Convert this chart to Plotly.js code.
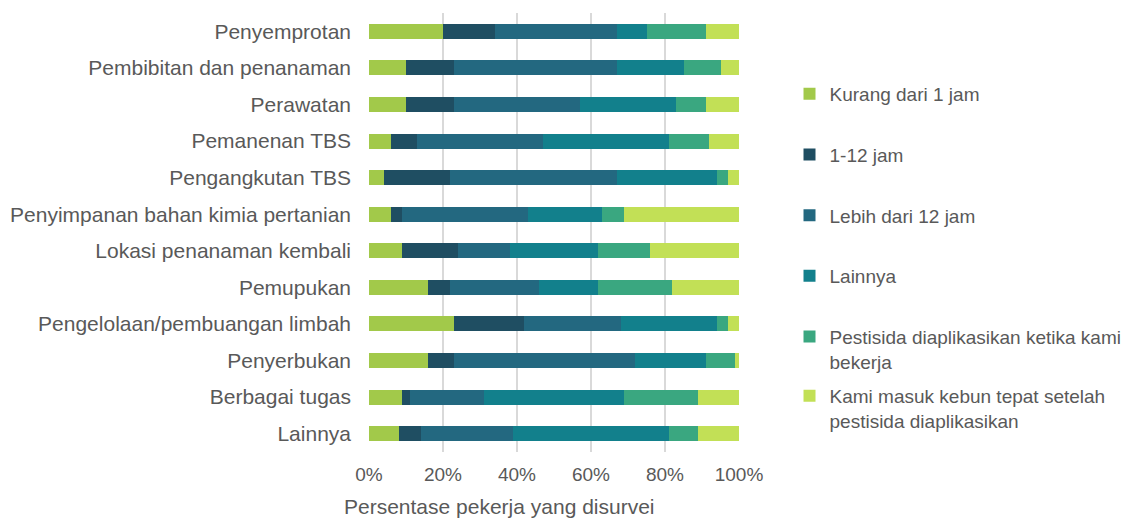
<!DOCTYPE html>
<html>
<head>
<meta charset="utf-8">
<script src="https://cdn.plot.ly/plotly-3.0.1.min.js"></script>
<style>html,body{margin:0;padding:0;background:#fff;}#chart{width:1148px;height:522px;}</style>
</head>
<body>
<div id="chart"></div>
<script>
const categories = [
  "Penyemprotan",
  "Pembibitan dan penanaman",
  "Perawatan",
  "Pemanenan TBS",
  "Pengangkutan TBS",
  "Penyimpanan bahan kimia pertanian",
  "Lokasi penanaman kembali",
  "Pemupukan",
  "Pengelolaan/pembuangan limbah",
  "Penyerbukan",
  "Berbagai tugas",
  "Lainnya"
];
const seriesNames = [
  "Kurang dari 1 jam",
  "1-12 jam",
  "Lebih dari 12 jam",
  "Lainnya",
  "Pestisida diaplikasikan ketika kami<br>bekerja",
  "Kami masuk kebun tepat setelah<br>pestisida diaplikasikan"
];
const kurangDari1Jam   = [20, 10, 10,  6,  4,  6,  9, 16, 23, 16,  9,  8];
const satuSampai12Jam  = [14, 13, 13,  7, 18,  3, 15,  6, 19,  7,  2,  6];
const lebihDari12Jam   = [33, 44, 34, 34, 45, 34, 14, 24, 26, 49, 20, 25];
const lainnya          = [ 8, 18, 26, 34, 27, 20, 24, 16, 26, 19, 38, 42];
const saatBekerja      = [16, 10,  8, 11,  3,  6, 14, 20,  3,  8, 20,  8];
const setelahAplikasi  = [ 9,  5,  9,  8,  3, 31, 24, 18,  3,  1, 11, 11];
const tickValues = [0, 20, 40, 60, 80, 100];
const tickLabels = ["0%", "20%", "40%", "60%", "80%", "100%"];

const seriesValues = [kurangDari1Jam, satuSampai12Jam, lebihDari12Jam, lainnya, saatBekerja, setelahAplikasi];
const colors = ["#A2C94A", "#1F4E62", "#236880", "#12808C", "#3AA780", "#C2E056"];

const traces = seriesValues.map((vals, i) => ({
  type: "bar",
  orientation: "h",
  name: seriesNames[i],
  x: vals,
  y: categories,
  legendgroup: "g" + i,
  legend: i === 5 ? "legend2" : "legend",
  marker: { color: colors[i], line: { width: 0 } },
  hoverinfo: "x+y+name"
}));

const legendFont = { size: 19, color: "#595959" };

const layout = {
  width: 1148,
  height: 522,
  margin: { l: 369, r: 409, t: 13, b: 70 },
  paper_bgcolor: "#ffffff",
  plot_bgcolor: "#ffffff",
  barmode: "stack",
  bargap: 0.59,
  font: { family: "Liberation Sans, Arial, sans-serif", color: "#595959" },
  xaxis: {
    range: [0, 100],
    tickvals: tickValues,
    ticktext: tickLabels,
    showgrid: true,
    gridcolor: "#D9D9D9",
    gridwidth: 1.5,
    zeroline: false,
    showline: false,
    ticks: "",
    ticklabelstandoff: 9,
    tickfont: { size: 19, color: "#595959" },
    fixedrange: true
  },
  yaxis: {
    type: "category",
    categoryorder: "array",
    categoryarray: categories,
    autorange: "reversed",
    showgrid: false,
    zeroline: false,
    showline: false,
    ticks: "",
    ticklabelstandoff: 17,
    tickfont: { size: 21, color: "#595959" },
    fixedrange: true
  },
  legend: {
    x: 1.1365,
    xanchor: "left",
    y: 0.859,
    yanchor: "top",
    traceorder: "grouped",
    tracegroupgap: 33,
    valign: "top",
    font: legendFont,
    bgcolor: "rgba(0,0,0,0)"
  },
  legend2: {
    x: 1.1365,
    xanchor: "left",
    y: 0.171,
    yanchor: "top",
    valign: "top",
    font: legendFont,
    bgcolor: "rgba(0,0,0,0)"
  },
  annotations: [{
    text: "Persentase pekerja yang disurvei",
    xref: "paper", yref: "paper",
    x: 0.354, y: -0.125,
    xanchor: "center", yanchor: "middle",
    showarrow: false,
    font: { size: 21, color: "#595959" }
  }]
};

Plotly.newPlot("chart", traces, layout, { displayModeBar: false, staticPlot: true });
</script>
</body>
</html>
